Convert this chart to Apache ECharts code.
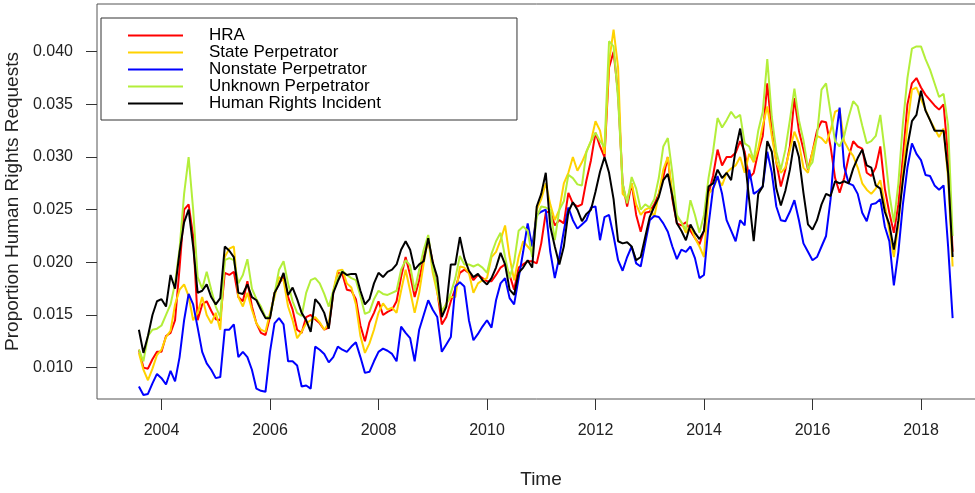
<!DOCTYPE html>
<html>
<head>
<meta charset="utf-8">
<script src="https://cdn.jsdelivr.net/npm/echarts@6/dist/echarts.min.js"></script>
<style>
html,body{margin:0;padding:0;background:#fff;}
#chart{width:975px;height:493px;}
</style>
</head>
<body>
<div id="chart"></div>
<script>
// Monthly series, first observation August 2003
const startYear = 2003;
const startMonth = 8;

const seriesNames = ["HRA", "State Perpetrator", "Nonstate Perpetrator", "Unknown Perpetrator", "Human Rights Incident"];
const xTickYears = [2004, 2006, 2008, 2010, 2012, 2014, 2016, 2018];
const yTickValues = [0.010, 0.015, 0.020, 0.025, 0.030, 0.035, 0.040];

const hra = [0.0117,0.0100,0.0099,0.0108,0.0115,0.0115,0.0130,0.0133,0.0145,0.0195,
0.0250,0.0255,0.0225,0.0145,0.0160,0.0163,0.0154,0.0146,0.0145,0.0190,
0.0188,0.0191,0.0167,0.0163,0.0182,0.0158,0.0142,0.0133,0.0131,0.0148,
0.0171,0.0180,0.0186,0.0167,0.0155,0.0136,0.0133,0.0148,0.0150,0.0146,
0.0142,0.0136,0.0138,0.0171,0.0190,0.0189,0.0174,0.0173,0.0165,0.0140,
0.0125,0.0143,0.0152,0.0163,0.0150,0.0153,0.0155,0.0163,0.0186,0.0205,
0.0188,0.0167,0.0183,0.0205,0.0221,0.0200,0.0173,0.0141,0.0148,0.0163,
0.0175,0.0190,0.0193,0.0190,0.0183,0.0188,0.0185,0.0182,0.0182,0.0188,
0.0195,0.0198,0.0188,0.0174,0.0195,0.0198,0.0201,0.0201,0.0199,0.0218,
0.0247,0.0249,0.0235,0.0240,0.0237,0.0266,0.0256,0.0253,0.0255,0.0278,
0.0297,0.0323,0.0310,0.0300,0.0385,0.0400,0.0360,0.0275,0.0253,0.0275,
0.0245,0.0229,0.0247,0.0248,0.0255,0.0265,0.0281,0.0300,0.0260,0.0237,
0.0235,0.0238,0.0230,0.0223,0.0217,0.0230,0.0265,0.0282,0.0307,0.0292,
0.0300,0.0300,0.0304,0.0315,0.0305,0.0280,0.0285,0.0305,0.0320,0.0370,
0.0325,0.0295,0.0272,0.0288,0.0310,0.0356,0.0325,0.0307,0.0288,0.0305,
0.0325,0.0334,0.0333,0.0310,0.0280,0.0266,0.0280,0.0300,0.0315,0.0310,
0.0308,0.0285,0.0282,0.0290,0.0310,0.0270,0.0247,0.0228,0.0255,0.0300,
0.0350,0.0370,0.0375,0.0366,0.0359,0.0354,0.0349,0.0345,0.0350,0.0300,
0.0210];

const statePerp = [0.0114,0.0098,0.0088,0.0099,0.0112,0.0117,0.0129,0.0135,0.0160,0.0174,
0.0179,0.0168,0.0145,0.0152,0.0167,0.0150,0.0142,0.0152,0.0136,0.0205,
0.0213,0.0215,0.0167,0.0158,0.0171,0.0155,0.0142,0.0136,0.0134,0.0152,
0.0167,0.0186,0.0183,0.0158,0.0145,0.0128,0.0134,0.0142,0.0145,0.0148,
0.0143,0.0136,0.0142,0.0173,0.0192,0.0193,0.0180,0.0176,0.0160,0.0130,
0.0114,0.0123,0.0136,0.0152,0.0161,0.0155,0.0157,0.0152,0.0173,0.0193,
0.0173,0.0152,0.0171,0.0199,0.0223,0.0190,0.0171,0.0152,0.0161,0.0167,
0.0167,0.0196,0.0195,0.0190,0.0171,0.0180,0.0183,0.0185,0.0205,0.0210,
0.0221,0.0235,0.0205,0.0183,0.0205,0.0220,0.0215,0.0210,0.0250,0.0260,
0.0275,0.0255,0.0240,0.0250,0.0275,0.0285,0.0300,0.0287,0.0295,0.0305,
0.0315,0.0334,0.0325,0.0303,0.0390,0.0421,0.0385,0.0265,0.0260,0.0275,
0.0255,0.0245,0.0250,0.0252,0.0243,0.0265,0.0288,0.0300,0.0265,0.0243,
0.0238,0.0228,0.0235,0.0223,0.0215,0.0205,0.0265,0.0270,0.0280,0.0273,
0.0285,0.0289,0.0292,0.0300,0.0285,0.0303,0.0295,0.0308,0.0330,0.0348,
0.0320,0.0295,0.0285,0.0290,0.0307,0.0324,0.0313,0.0290,0.0285,0.0305,
0.0320,0.0318,0.0313,0.0325,0.0343,0.0345,0.0315,0.0307,0.0301,0.0290,
0.0275,0.0269,0.0265,0.0270,0.0278,0.0255,0.0230,0.0205,0.0235,0.0285,
0.0330,0.0364,0.0366,0.0355,0.0345,0.0335,0.0327,0.0319,0.0327,0.0280,
0.0196];

const nonstatePerp = [0.0082,0.0074,0.0075,0.0085,0.0094,0.0090,0.0084,0.0097,0.0087,0.0110,
0.0145,0.0170,0.0160,0.0138,0.0115,0.0104,0.0098,0.0090,0.0091,0.0136,
0.0136,0.0141,0.0110,0.0115,0.0110,0.0098,0.0080,0.0078,0.0077,0.0115,
0.0142,0.0147,0.0141,0.0106,0.0106,0.0102,0.0082,0.0083,0.0080,0.0120,
0.0117,0.0113,0.0105,0.0110,0.0120,0.0117,0.0115,0.0120,0.0124,0.0110,
0.0095,0.0096,0.0106,0.0115,0.0118,0.0116,0.0113,0.0106,0.0139,0.0133,
0.0128,0.0106,0.0136,0.0150,0.0164,0.0155,0.0148,0.0115,0.0122,0.0129,
0.0177,0.0181,0.0177,0.0145,0.0126,0.0132,0.0139,0.0145,0.0138,0.0164,
0.0180,0.0185,0.0166,0.0160,0.0185,0.0210,0.0237,0.0215,0.0245,0.0248,
0.0250,0.0210,0.0185,0.0205,0.0230,0.0252,0.0240,0.0232,0.0236,0.0240,
0.0252,0.0253,0.0221,0.0243,0.0245,0.0225,0.0202,0.0192,0.0205,0.0215,
0.0199,0.0196,0.0218,0.0240,0.0244,0.0243,0.0237,0.0229,0.0215,0.0203,
0.0212,0.0210,0.0215,0.0204,0.0185,0.0188,0.0235,0.0270,0.0282,0.0265,
0.0240,0.0230,0.0220,0.0240,0.0235,0.0288,0.0265,0.0268,0.0272,0.0305,
0.0285,0.0253,0.0240,0.0239,0.0248,0.0259,0.0240,0.0218,0.0210,0.0202,
0.0205,0.0215,0.0225,0.0260,0.0313,0.0347,0.0291,0.0275,0.0273,0.0265,
0.0247,0.0239,0.0255,0.0256,0.0260,0.0234,0.0220,0.0178,0.0210,0.0255,
0.0290,0.0313,0.0303,0.0297,0.0283,0.0282,0.0273,0.0269,0.0273,0.0215,
0.0147];

const unknownPerp = [0.0117,0.0106,0.0130,0.0136,0.0137,0.0140,0.0150,0.0160,0.0180,0.0213,
0.0265,0.0300,0.0250,0.0186,0.0175,0.0191,0.0174,0.0158,0.0148,0.0202,
0.0204,0.0202,0.0180,0.0188,0.0203,0.0175,0.0165,0.0158,0.0148,0.0148,
0.0170,0.0193,0.0201,0.0180,0.0163,0.0152,0.0149,0.0171,0.0183,0.0185,
0.0180,0.0170,0.0158,0.0173,0.0185,0.0192,0.0188,0.0185,0.0183,0.0168,
0.0151,0.0153,0.0165,0.0173,0.0170,0.0169,0.0171,0.0173,0.0193,0.0202,
0.0197,0.0173,0.0193,0.0212,0.0226,0.0195,0.0175,0.0154,0.0160,0.0171,
0.0185,0.0206,0.0198,0.0198,0.0196,0.0198,0.0195,0.0190,0.0208,0.0220,
0.0228,0.0205,0.0185,0.0200,0.0230,0.0234,0.0230,0.0205,0.0243,0.0253,
0.0252,0.0250,0.0221,0.0250,0.0258,0.0283,0.0280,0.0274,0.0273,0.0305,
0.0315,0.0323,0.0315,0.0310,0.0410,0.0405,0.0355,0.0275,0.0256,0.0281,
0.0270,0.0250,0.0255,0.0252,0.0260,0.0280,0.0310,0.0318,0.0285,0.0245,
0.0238,0.0231,0.0259,0.0245,0.0228,0.0245,0.0280,0.0305,0.0337,0.0328,
0.0335,0.0343,0.0337,0.0340,0.0313,0.0310,0.0297,0.0325,0.0343,0.0393,
0.0338,0.0305,0.0288,0.0307,0.0335,0.0365,0.0335,0.0316,0.0289,0.0295,
0.0320,0.0364,0.0370,0.0342,0.0315,0.0310,0.0320,0.0338,0.0353,0.0348,
0.0330,0.0313,0.0315,0.0320,0.0340,0.0305,0.0265,0.0238,0.0275,0.0332,
0.0375,0.0403,0.0405,0.0405,0.0393,0.0383,0.0370,0.0357,0.0360,0.0330,
0.0225];

const hri = [0.0136,0.0114,0.0130,0.0150,0.0163,0.0165,0.0158,0.0188,0.0175,0.0210,
0.0238,0.0250,0.0215,0.0171,0.0173,0.0179,0.0167,0.0160,0.0166,0.0215,
0.0211,0.0205,0.0171,0.0170,0.0179,0.0167,0.0164,0.0155,0.0147,0.0147,
0.0171,0.0179,0.0190,0.0169,0.0176,0.0165,0.0152,0.0145,0.0134,0.0165,
0.0160,0.0152,0.0137,0.0171,0.0182,0.0191,0.0188,0.0189,0.0189,0.0173,
0.0160,0.0165,0.0180,0.0190,0.0186,0.0191,0.0193,0.0198,0.0212,0.0220,
0.0212,0.0193,0.0198,0.0201,0.0223,0.0200,0.0186,0.0148,0.0158,0.0198,
0.0198,0.0224,0.0204,0.0192,0.0186,0.0189,0.0183,0.0179,0.0185,0.0195,
0.0209,0.0198,0.0174,0.0169,0.0190,0.0195,0.0202,0.0195,0.0253,0.0265,
0.0285,0.0234,0.0215,0.0198,0.0215,0.0248,0.0257,0.0250,0.0239,0.0246,
0.0250,0.0267,0.0286,0.0300,0.0285,0.0260,0.0220,0.0218,0.0219,0.0215,
0.0202,0.0205,0.0224,0.0243,0.0253,0.0262,0.0278,0.0284,0.0263,0.0237,
0.0230,0.0221,0.0236,0.0228,0.0222,0.0230,0.0272,0.0275,0.0288,0.0280,
0.0285,0.0278,0.0307,0.0327,0.0300,0.0259,0.0220,0.0265,0.0272,0.0315,
0.0305,0.0270,0.0254,0.0268,0.0288,0.0315,0.0300,0.0266,0.0236,0.0231,
0.0240,0.0255,0.0265,0.0263,0.0277,0.0275,0.0277,0.0275,0.0289,0.0299,
0.0307,0.0292,0.0290,0.0273,0.0270,0.0248,0.0236,0.0212,0.0240,0.0278,
0.0310,0.0334,0.0340,0.0363,0.0344,0.0335,0.0325,0.0325,0.0325,0.0285,
0.0205];

const seriesValues = [hra, statePerp, nonstatePerp, unknownPerp, hri];
const seriesColors = ["#FF0000", "#FFD200", "#0000FF", "#B3EE3A", "#000000"];

function timeOf(i) { return startYear + (startMonth - 1 + i) / 12; }

const FONT = "Liberation Sans, Arial, sans-serif";
const chart = echarts.init(document.getElementById('chart'), null, {renderer: 'canvas'});

const option = {
  animation: false,
  backgroundColor: '#ffffff',
  grid: {
    left: 97, top: 4, width: 888, height: 395,
    outerBoundsMode: 'none',
    containLabel: false,
    show: true, borderColor: '#555555', borderWidth: 1, backgroundColor: 'transparent'
  },
  legend: {
    data: seriesNames,
    orient: 'vertical',
    left: 101, top: 18,
    padding: [9, 136, 8, 27],
    itemGap: 0,
    itemWidth: 55,
    itemHeight: 2,
    icon: 'rect',
    borderColor: '#333333',
    borderWidth: 1,
    selectedMode: false,
    textStyle: {fontFamily: FONT, fontSize: 17, lineHeight: 17, color: '#000000', padding: [0, 0, 0, 21]}
  },
  xAxis: {
    type: 'value',
    min: 2002.811, max: 2019.18,
    name: 'Time', nameLocation: 'middle', nameGap: 71,
    nameTextStyle: {fontFamily: FONT, fontSize: 19, color: '#222222'},
    axisLine: {show: false},
    splitLine: {show: false},
    axisTick: {show: true, length: 11, lineStyle: {color: '#333333', width: 1}, customValues: xTickYears},
    axisLabel: {show: true, margin: 24, fontFamily: FONT, fontSize: 16, color: '#222222',
      customValues: xTickYears, formatter: v => String(Math.round(v))}
  },
  yAxis: {
    type: 'value',
    min: 0.00702, max: 0.04453,
    name: 'Proportion Human Rights Requests', nameLocation: 'middle', nameGap: 72,
    nameRotate: 90,
    nameTextStyle: {fontFamily: FONT, fontSize: 19, color: '#222222'},
    axisLine: {show: false},
    splitLine: {show: false},
    axisTick: {show: true, length: 11, lineStyle: {color: '#333333', width: 1}, customValues: yTickValues},
    axisLabel: {show: true, margin: 24, fontFamily: FONT, fontSize: 16, color: '#222222',
      customValues: yTickValues, formatter: v => v.toFixed(3)}
  },
  series: seriesNames.map((name, k) => ({
    name: name,
    type: 'line',
    showSymbol: false,
    symbol: 'none',
    clip: true,
    color: seriesColors[k],
    lineStyle: {color: seriesColors[k], width: 2},
    data: seriesValues[k].map((v, i) => [timeOf(i), v])
  }))
};
chart.setOption(option);
</script>
</body>
</html>
